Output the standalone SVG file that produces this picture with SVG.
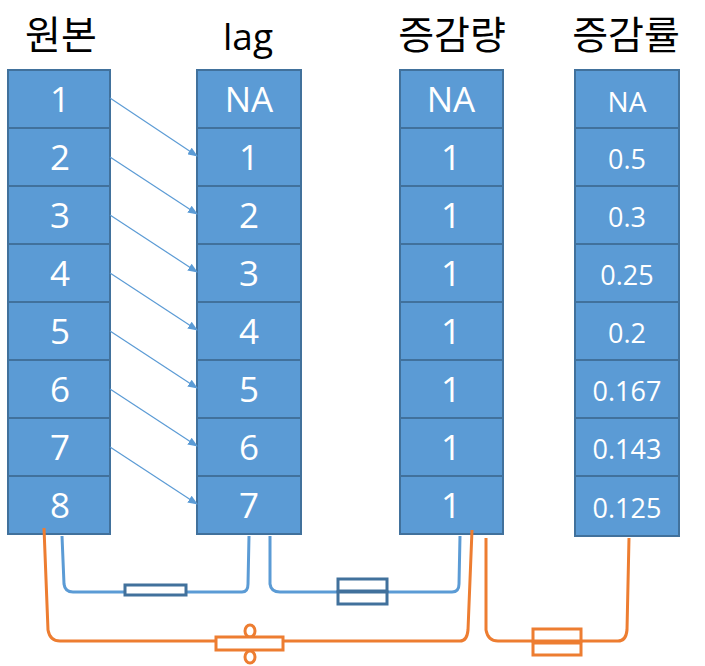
<svg xmlns="http://www.w3.org/2000/svg" width="705" height="666" viewBox="0 0 705 666">
<style>
.box{fill:#5b9bd5;stroke:#41719c;stroke-width:2}
.t{fill:#fff;font-family:"Open Sans","Noto Sans",sans-serif;font-size:35px;text-anchor:middle}
.s{fill:#fff;font-family:"Open Sans","Noto Sans",sans-serif;font-size:27px;text-anchor:middle}
.h{fill:#000;font-family:"Noto Sans CJK KR","Noto Sans",sans-serif;font-size:39px;text-anchor:middle}
.arr{stroke:#5b9bd5;stroke-width:1.2;fill:none;marker-end:url(#ah)}
.bl{stroke:#5b9bd5;stroke-width:3;fill:none}
.or{stroke:#ed7d31;stroke-width:3;fill:none}
.bs{stroke:#41719c;stroke-width:3;fill:#fff}
.os{stroke:#ed7d31;stroke-width:3;fill:#fff}
</style>
<defs>
<marker id="ah" markerWidth="10" markerHeight="8" refX="9" refY="4" orient="auto" markerUnits="userSpaceOnUse"><path d="M0,0 L10,4 L0,8 Z" fill="#5b9bd5"/></marker>
</defs>
<rect width="705" height="666" fill="#fff"/>
<g id="headers">
<text class="h" x="61" y="49">원본</text>
<text class="h" x="248" y="50" style="font-family:'Open Sans','Noto Sans',sans-serif;font-size:37px">lag</text>
<text class="h" x="452" y="49">증감량</text>
<text class="h" x="626" y="49">증감률</text>
</g>
<g id="col-original">
<rect class="box" x="8" y="70" width="102" height="58"/>
<rect class="box" x="8" y="128" width="102" height="58"/>
<rect class="box" x="8" y="186" width="102" height="58"/>
<rect class="box" x="8" y="244" width="102" height="58"/>
<rect class="box" x="8" y="302" width="102" height="58"/>
<rect class="box" x="8" y="360" width="102" height="58"/>
<rect class="box" x="8" y="418" width="102" height="58"/>
<rect class="box" x="8" y="476" width="102" height="58"/>
<text class="t" x="60" y="112">1</text>
<text class="t" x="60" y="170">2</text>
<text class="t" x="60" y="228">3</text>
<text class="t" x="60" y="286">4</text>
<text class="t" x="60" y="344">5</text>
<text class="t" x="60" y="402">6</text>
<text class="t" x="60" y="460">7</text>
<text class="t" x="60" y="518">8</text>
</g>
<g id="col-lag">
<rect class="box" x="197" y="70" width="104" height="58"/>
<rect class="box" x="197" y="128" width="104" height="58"/>
<rect class="box" x="197" y="186" width="104" height="58"/>
<rect class="box" x="197" y="244" width="104" height="58"/>
<rect class="box" x="197" y="302" width="104" height="58"/>
<rect class="box" x="197" y="360" width="104" height="58"/>
<rect class="box" x="197" y="418" width="104" height="58"/>
<rect class="box" x="197" y="476" width="104" height="58"/>
<text class="t" x="249" y="112">NA</text>
<text class="t" x="249" y="170">1</text>
<text class="t" x="249" y="228">2</text>
<text class="t" x="249" y="286">3</text>
<text class="t" x="249" y="344">4</text>
<text class="t" x="249" y="402">5</text>
<text class="t" x="249" y="460">6</text>
<text class="t" x="249" y="518">7</text>
</g>
<g id="col-diff">
<rect class="box" x="400" y="70" width="103" height="58"/>
<rect class="box" x="400" y="128" width="103" height="58"/>
<rect class="box" x="400" y="186" width="103" height="58"/>
<rect class="box" x="400" y="244" width="103" height="58"/>
<rect class="box" x="400" y="302" width="103" height="58"/>
<rect class="box" x="400" y="360" width="103" height="58"/>
<rect class="box" x="400" y="418" width="103" height="58"/>
<rect class="box" x="400" y="476" width="103" height="58"/>
<text class="t" x="451" y="112">NA</text>
<text class="t" x="451" y="170">1</text>
<text class="t" x="451" y="228">1</text>
<text class="t" x="451" y="286">1</text>
<text class="t" x="451" y="344">1</text>
<text class="t" x="451" y="402">1</text>
<text class="t" x="451" y="460">1</text>
<text class="t" x="451" y="518">1</text>
</g>
<g id="col-rate">
<rect class="box" x="575" y="70" width="104" height="58"/>
<rect class="box" x="575" y="128" width="104" height="58"/>
<rect class="box" x="575" y="186" width="104" height="58"/>
<rect class="box" x="575" y="244" width="104" height="58"/>
<rect class="box" x="575" y="302" width="104" height="58"/>
<rect class="box" x="575" y="360" width="104" height="58"/>
<rect class="box" x="575" y="418" width="104" height="58"/>
<rect class="box" x="575" y="476" width="104" height="60"/>
<text class="s" x="627" y="112" style="font-size:28px">NA</text>
<text class="s" x="627" y="169">0.5</text>
<text class="s" x="627" y="227">0.3</text>
<text class="s" x="627" y="285">0.25</text>
<text class="s" x="627" y="343">0.2</text>
<text class="s" x="627" y="401">0.167</text>
<text class="s" x="627" y="459">0.143</text>
<text class="s" x="627" y="518">0.125</text>
</g>
<g id="connectors">
<line class="arr" x1="110" y1="98" x2="197" y2="156"/>
<line class="arr" x1="110" y1="157" x2="197" y2="214"/>
<line class="arr" x1="110" y1="215" x2="197" y2="272"/>
<line class="arr" x1="110" y1="273" x2="197" y2="330"/>
<line class="arr" x1="110" y1="331" x2="197" y2="388"/>
<line class="arr" x1="110" y1="389" x2="197" y2="446"/>
<line class="arr" x1="110" y1="447" x2="197" y2="504"/>
<path class="bl" d="M62,536 L64,584 Q65,592 73,592 L242,592 Q248,592 248,584 L249,536"/>
<path class="bl" d="M270,536 L270,584 Q271,592 280,592 L452,592 Q459,592 459,584 L460,536"/>
<path class="or" d="M44,528 L48,630 Q50,641 60,641 L460,641 Q467,641 468,630 L472,530"/>
<path class="or" d="M486,538 L486,630 Q488,641 498,641 L618,641 Q626,641 627,630 L629,538"/>
</g>
<g id="sym-lag">
<rect class="bs" x="125" y="585" width="61" height="10"/>
</g>
<g id="sym-diff">
<rect class="bs" x="338" y="579" width="49" height="12"/>
<rect class="bs" x="338" y="592" width="49" height="12"/>
</g>
<g id="sym-diff2">
<ellipse class="os" cx="250" cy="631" rx="5" ry="6"/>
<ellipse class="os" cx="250" cy="657" rx="5" ry="6"/>
<rect class="os" x="216" y="637" width="67" height="13"/>
</g>
<g id="sym-rate">
<rect class="os" x="533" y="629" width="48" height="12"/>
<rect class="os" x="533" y="643" width="48" height="12"/>
</g>
</svg>
